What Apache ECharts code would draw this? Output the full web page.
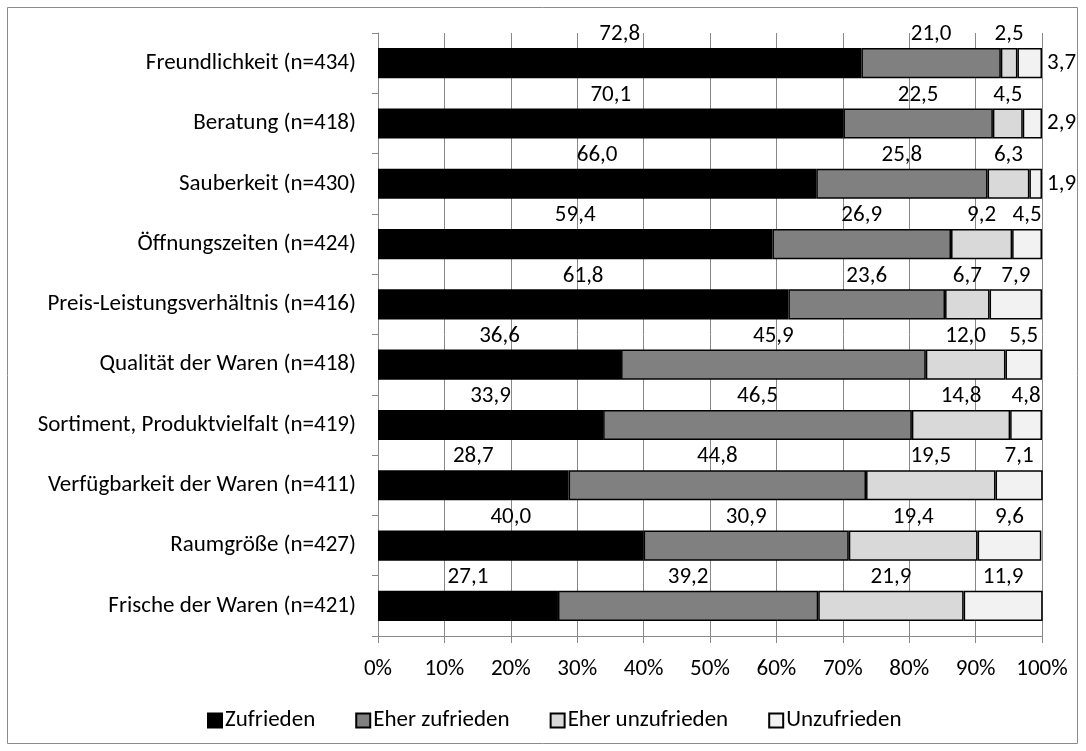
<!DOCTYPE html>
<html>
<head>
<meta charset="utf-8">
<script src="https://cdn.jsdelivr.net/npm/echarts@6/dist/echarts.min.js"></script>
<style>
  html, body { margin: 0; padding: 0; background: #fff; }
  #chart { width: 1086px; height: 751px; }
</style>
</head>
<body>
<div id="chart"></div>
<script>
// Satisfaction ratings per aspect, in percent of respondents
const categories = [
  'Freundlichkeit (n=434)',
  'Beratung (n=418)',
  'Sauberkeit (n=430)',
  'Öffnungszeiten (n=424)',
  'Preis-Leistungsverhältnis (n=416)',
  'Qualität der Waren (n=418)',
  'Sortiment, Produktvielfalt (n=419)',
  'Verfügbarkeit der Waren (n=411)',
  'Raumgröße (n=427)',
  'Frische der Waren (n=421)'
];
const zufrieden        = [72.8, 70.1, 66.0, 59.4, 61.8, 36.6, 33.9, 28.7, 40.0, 27.1];
const eherZufrieden    = [21.0, 22.5, 25.8, 26.9, 23.6, 45.9, 46.5, 44.8, 30.9, 39.2];
const eherUnzufrieden  = [2.5, 4.5, 6.3, 9.2, 6.7, 12.0, 14.8, 19.5, 19.4, 21.9];
const unzufrieden      = [3.7, 2.9, 1.9, 4.5, 7.9, 5.5, 4.8, 7.1, 9.6, 11.9];
const seriesNames = ['Zufrieden', 'Eher zufrieden', 'Eher unzufrieden', 'Unzufrieden'];
const xTicks = [0, 10, 20, 30, 40, 50, 60, 70, 80, 90, 100];

const FONT = 'Carlito, Lato, sans-serif';
const FS = 23;
const GRID_COLOR = '#888888';

// Rows whose small last segment gets its label beside the bar instead of above it
const sideLabelRows = [0, 1, 2];

function fmt(v) { return v.toFixed(1).replace('.', ','); }

function makeSeries(name, values, color, isLast) {
  return {
    name: name,
    type: 'bar',
    stack: 'total',
    barWidth: '50%',
    data: values.map(function (v, i) {
      const item = { value: v };
      if (isLast && sideLabelRows.indexOf(i) >= 0) {
        item.label = { position: 'right', distance: 5 };
      }
      return item;
    }),
    itemStyle: { color: color, borderColor: '#000', borderWidth: 1.5 },
    label: {
      show: true,
      position: 'top',
      distance: 2,
      color: '#000',
      fontFamily: FONT,
      fontSize: FS,
      formatter: function (p) { return fmt(p.value); }
    },
    emphasis: { disabled: true }
  };
}

const chart = echarts.init(document.getElementById('chart'), null, { renderer: 'canvas' });
chart.setOption({
  animation: false,
  backgroundColor: '#fff',
  textStyle: { fontFamily: FONT },
  graphic: [{
    type: 'rect',
    shape: { x: 7.5, y: 7.5, width: 1070, height: 736 },
    style: { fill: 'none', stroke: '#8a8a8a', lineWidth: 1 },
    silent: true
  }],
  grid: { left: 378, right: 44, top: 33, bottom: 115, containLabel: false },
  legend: {
    bottom: 14,
    left: 202,
    icon: 'rect',
    itemWidth: 14,
    itemHeight: 14,
    itemGap: 40,
    textStyle: { fontFamily: FONT, fontSize: FS, color: '#000', padding: [0, 0, 0, -2] },
    data: seriesNames
  },
  xAxis: {
    type: 'value',
    min: xTicks[0],
    max: xTicks[xTicks.length - 1],
    interval: xTicks[1] - xTicks[0],
    axisLine: { show: true, lineStyle: { color: GRID_COLOR, width: 1 } },
    axisTick: { show: true, length: 7, lineStyle: { color: GRID_COLOR } },
    splitLine: { show: true, lineStyle: { color: GRID_COLOR, width: 1 } },
    axisLabel: {
      color: '#000', fontFamily: FONT, fontSize: FS, margin: 22,
      formatter: '{value}%'
    }
  },
  yAxis: {
    type: 'category',
    inverse: true,
    data: categories,
    axisLine: { show: true, lineStyle: { color: GRID_COLOR, width: 1 } },
    axisTick: { show: true, length: 6, lineStyle: { color: GRID_COLOR } },
    axisLabel: { color: '#000', fontFamily: FONT, fontSize: FS, margin: 22 }
  },
  series: [
    makeSeries(seriesNames[0], zufrieden, '#000000', false),
    makeSeries(seriesNames[1], eherZufrieden, '#808080', false),
    makeSeries(seriesNames[2], eherUnzufrieden, '#d9d9d9', false),
    makeSeries(seriesNames[3], unzufrieden, '#f2f2f2', true)
  ]
});
</script>
</body>
</html>
